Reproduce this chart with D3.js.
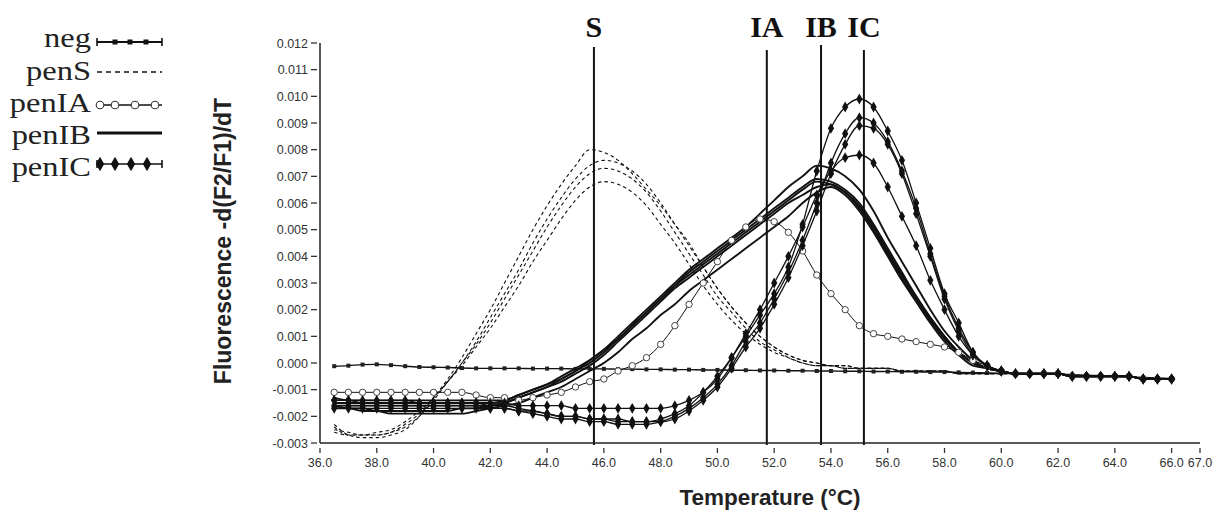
<!DOCTYPE html>
<html>
<head>
<meta charset="utf-8">
<script src="https://cdn.jsdelivr.net/npm/d3@7"></script>
<style>
  html, body { margin: 0; padding: 0; background: #fff; }
  svg { display: block; }
</style>
</head>
<body>
<svg id="chart" width="1220" height="512"></svg>
<script>
// ---------------- DATA ----------------
const temps = [
  36.5,37.0,37.5,38.0,38.5,39.0,39.5,40.0,40.5,41.0,
  41.5,42.0,42.5,43.0,43.5,44.0,44.5,45.0,45.5,46.0,
  46.5,47.0,47.5,48.0,48.5,49.0,49.5,50.0,50.5,51.0,
  51.5,52.0,52.5,53.0,53.5,54.0,54.5,55.0,55.5,56.0,
  56.5,57.0,57.5,58.0,58.5,59.0,59.5,60.0,60.5,61.0,
  61.5,62.0,62.5,63.0,63.5,64.0,64.5,65.0,65.5,66.0];

const negValues = [
  -0.00012,-0.00010,-0.00006,-0.00005,-0.00008,-0.00012,-0.00015,-0.00016,-0.00017,-0.00019,
  -0.00020,-0.00020,-0.00020,-0.00020,-0.00021,-0.00021,-0.00021,-0.00022,-0.00022,-0.00022,
  -0.00023,-0.00023,-0.00024,-0.00024,-0.00025,-0.00025,-0.00026,-0.00026,-0.00027,-0.00027,
  -0.00028,-0.00028,-0.00029,-0.00029,-0.00030,-0.00030,-0.00031,-0.00031,-0.00032,-0.00032,
  -0.00033,-0.00033,-0.00034,-0.00034,-0.00035,-0.00036,-0.00037,-0.00038,-0.00039,-0.00040,
  -0.00041,-0.00042,-0.00044,-0.00046,-0.00048,-0.00050,-0.00052,-0.00054,-0.00056,-0.00058];

const penS1 = [
  -0.0023,-0.0027,-0.0028,-0.0028,-0.0027,-0.0025,-0.0020,-0.0013,-0.0006,0.0002,
  0.0011,0.0020,0.0030,0.0040,0.0050,0.0059,0.0067,0.0074,0.0080,0.0079,
  0.0076,0.0071,0.0065,0.0059,0.0052,0.0045,0.0036,0.0028,0.0021,0.0015,
  0.0010,0.0006,0.0003,0.0001,0.0000,-0.0001,-0.0001,-0.0002,-0.0002,-0.0002,
  -0.0003,-0.0003,-0.0003,-0.0003,-0.0004,-0.0004,-0.0004,-0.0004,-0.0004,-0.0004,
  -0.0004,-0.0004,-0.0005,-0.0005,-0.0005,-0.0005,-0.0005,-0.0006,-0.0006,-0.0006];
const penS2 = [
  -0.0024,-0.0027,-0.0027,-0.0027,-0.0026,-0.0024,-0.0020,-0.0014,-0.0007,0.0000,
  0.0008,0.0017,0.0026,0.0035,0.0045,0.0054,0.0062,0.0069,0.0074,0.0076,
  0.0075,0.0072,0.0067,0.0060,0.0052,0.0044,0.0036,0.0028,0.0021,0.0015,
  0.0010,0.0006,0.0003,0.0001,0.0000,-0.0001,-0.0001,-0.0002,-0.0002,-0.0002,
  -0.0003,-0.0003,-0.0003,-0.0003,-0.0004,-0.0004,-0.0004,-0.0004,-0.0004,-0.0004,
  -0.0004,-0.0004,-0.0005,-0.0005,-0.0005,-0.0005,-0.0005,-0.0006,-0.0006,-0.0006];
const penS3 = [
  -0.0025,-0.0026,-0.0027,-0.0027,-0.0026,-0.0023,-0.0019,-0.0013,-0.0007,0.0000,
  0.0007,0.0015,0.0024,0.0033,0.0042,0.0051,0.0059,0.0066,0.0071,0.0073,
  0.0072,0.0069,0.0064,0.0057,0.0049,0.0041,0.0033,0.0025,0.0019,0.0013,
  0.0008,0.0005,0.0002,0.0000,-0.0001,-0.0001,-0.0002,-0.0002,-0.0002,-0.0002,
  -0.0003,-0.0003,-0.0003,-0.0003,-0.0004,-0.0004,-0.0004,-0.0004,-0.0004,-0.0004,
  -0.0004,-0.0004,-0.0005,-0.0005,-0.0005,-0.0005,-0.0005,-0.0006,-0.0006,-0.0006];
const penS4 = [
  -0.0026,-0.0027,-0.0027,-0.0026,-0.0025,-0.0022,-0.0018,-0.0013,-0.0007,-0.0001,
  0.0006,0.0013,0.0021,0.0029,0.0038,0.0046,0.0054,0.0061,0.0066,0.0068,
  0.0067,0.0064,0.0059,0.0052,0.0045,0.0037,0.0029,0.0022,0.0016,0.0011,
  0.0007,0.0004,0.0002,0.0000,-0.0001,-0.0001,-0.0002,-0.0002,-0.0002,-0.0002,
  -0.0003,-0.0003,-0.0003,-0.0003,-0.0004,-0.0004,-0.0004,-0.0004,-0.0004,-0.0004,
  -0.0004,-0.0004,-0.0005,-0.0005,-0.0005,-0.0005,-0.0005,-0.0006,-0.0006,-0.0006];

const penIA1 = [
  -0.0011,-0.0011,-0.0011,-0.0011,-0.0011,-0.0011,-0.0011,-0.0011,-0.0011,-0.0011,
  -0.0012,-0.0013,-0.0013,-0.0014,-0.0013,-0.0012,-0.0011,-0.0009,-0.0007,-0.0006,
  -0.0003,-0.0001,0.0002,0.0007,0.0014,0.0022,0.0030,0.0038,0.0046,0.0051,
  0.0054,0.0053,0.0049,0.0042,0.0033,0.0026,0.0020,0.0014,0.0011,0.0010,
  0.0009,0.0008,0.0007,0.0006,0.0004,0.0001,-0.0001,-0.0003,-0.0004,-0.0004,
  -0.0004,-0.0004,-0.0005,-0.0005,-0.0005,-0.0005,-0.0005,-0.0006,-0.0006,-0.0006];

const penIB1 = [
  -0.0015,-0.0015,-0.0015,-0.0015,-0.0015,-0.0015,-0.0015,-0.0015,-0.0015,-0.0015,
  -0.0015,-0.0015,-0.0014,-0.0012,-0.0010,-0.0008,-0.0005,-0.0002,0.0001,0.0005,
  0.0010,0.0015,0.0020,0.0025,0.0030,0.0035,0.0039,0.0043,0.0047,0.0051,
  0.0056,0.0061,0.0066,0.0070,0.0074,0.0073,0.0070,0.0065,0.0057,0.0047,
  0.0038,0.0029,0.0020,0.0012,0.0006,0.0001,-0.0002,-0.0003,-0.0004,-0.0004,
  -0.0004,-0.0004,-0.0005,-0.0005,-0.0005,-0.0005,-0.0005,-0.0006,-0.0006,-0.0006];
const penIB2 = [
  -0.0013,-0.0014,-0.0014,-0.0014,-0.0014,-0.0014,-0.0014,-0.0014,-0.0014,-0.0014,
  -0.0014,-0.0014,-0.0014,-0.0012,-0.0010,-0.0008,-0.0006,-0.0003,0.0000,0.0004,
  0.0009,0.0014,0.0019,0.0024,0.0029,0.0034,0.0038,0.0042,0.0046,0.0050,
  0.0054,0.0058,0.0062,0.0066,0.0069,0.0068,0.0065,0.0060,0.0052,0.0043,
  0.0034,0.0025,0.0017,0.0010,0.0004,0.0000,-0.0002,-0.0003,-0.0004,-0.0004,
  -0.0004,-0.0004,-0.0005,-0.0005,-0.0005,-0.0005,-0.0005,-0.0006,-0.0006,-0.0006];
const penIB3 = [
  -0.0016,-0.0016,-0.0016,-0.0016,-0.0016,-0.0016,-0.0016,-0.0016,-0.0016,-0.0016,
  -0.0016,-0.0016,-0.0015,-0.0013,-0.0011,-0.0009,-0.0007,-0.0004,-0.0001,0.0003,
  0.0008,0.0013,0.0018,0.0023,0.0028,0.0032,0.0036,0.0040,0.0044,0.0048,
  0.0052,0.0056,0.0060,0.0063,0.0066,0.0067,0.0064,0.0058,0.0050,0.0041,
  0.0032,0.0024,0.0016,0.0009,0.0004,0.0000,-0.0002,-0.0003,-0.0004,-0.0004,
  -0.0004,-0.0004,-0.0005,-0.0005,-0.0005,-0.0005,-0.0005,-0.0006,-0.0006,-0.0006];
const penIB4 = [
  -0.0017,-0.0017,-0.0018,-0.0018,-0.0019,-0.0019,-0.0019,-0.0019,-0.0019,-0.0019,
  -0.0018,-0.0017,-0.0016,-0.0015,-0.0013,-0.0011,-0.0009,-0.0006,-0.0003,0.0000,
  0.0004,0.0009,0.0013,0.0018,0.0022,0.0027,0.0031,0.0035,0.0039,0.0043,
  0.0047,0.0051,0.0055,0.0060,0.0064,0.0066,0.0063,0.0057,0.0049,0.0040,
  0.0031,0.0023,0.0015,0.0008,0.0003,-0.0001,-0.0002,-0.0003,-0.0004,-0.0004,
  -0.0004,-0.0004,-0.0005,-0.0005,-0.0005,-0.0005,-0.0005,-0.0006,-0.0006,-0.0006];
const penIB5 = [
  -0.0016,-0.0017,-0.0017,-0.0018,-0.0018,-0.0018,-0.0018,-0.0018,-0.0018,-0.0017,
  -0.0017,-0.0016,-0.0015,-0.0013,-0.0011,-0.0009,-0.0006,-0.0003,0.0001,0.0005,
  0.0009,0.0014,0.0019,0.0024,0.0029,0.0033,0.0037,0.0041,0.0045,0.0049,
  0.0053,0.0057,0.0061,0.0065,0.0068,0.0067,0.0064,0.0059,0.0051,0.0042,
  0.0033,0.0025,0.0017,0.0010,0.0004,0.0000,-0.0002,-0.0003,-0.0004,-0.0004,
  -0.0004,-0.0004,-0.0005,-0.0005,-0.0005,-0.0005,-0.0005,-0.0006,-0.0006,-0.0006];

const penIC1 = [
  -0.0014,-0.0014,-0.0015,-0.0015,-0.0015,-0.0015,-0.0015,-0.0015,-0.0015,-0.0015,
  -0.0015,-0.0016,-0.0016,-0.0017,-0.0018,-0.0019,-0.0020,-0.0020,-0.0021,-0.0021,
  -0.0022,-0.0022,-0.0022,-0.0021,-0.0019,-0.0016,-0.0011,-0.0005,0.0002,0.0010,
  0.0018,0.0026,0.0036,0.0052,0.0072,0.0088,0.0096,0.0099,0.0096,0.0087,
  0.0076,0.0060,0.0043,0.0026,0.0015,0.0004,-0.0001,-0.0003,-0.0004,-0.0004,
  -0.0004,-0.0004,-0.0005,-0.0005,-0.0005,-0.0005,-0.0005,-0.0006,-0.0006,-0.0006];
const penIC2 = [
  -0.0016,-0.0016,-0.0016,-0.0016,-0.0016,-0.0016,-0.0016,-0.0016,-0.0016,-0.0016,
  -0.0016,-0.0017,-0.0017,-0.0018,-0.0019,-0.0020,-0.0021,-0.0021,-0.0022,-0.0022,
  -0.0023,-0.0023,-0.0023,-0.0022,-0.0020,-0.0017,-0.0013,-0.0008,-0.0001,0.0008,
  0.0015,0.0024,0.0034,0.0046,0.0060,0.0075,0.0086,0.0092,0.0090,0.0083,
  0.0072,0.0058,0.0041,0.0025,0.0013,0.0004,-0.0001,-0.0003,-0.0004,-0.0004,
  -0.0004,-0.0004,-0.0005,-0.0005,-0.0005,-0.0005,-0.0005,-0.0006,-0.0006,-0.0006];
const penIC3 = [
  -0.0017,-0.0017,-0.0017,-0.0017,-0.0017,-0.0017,-0.0017,-0.0017,-0.0017,-0.0017,
  -0.0017,-0.0017,-0.0017,-0.0018,-0.0018,-0.0019,-0.0020,-0.0020,-0.0021,-0.0021,
  -0.0021,-0.0022,-0.0022,-0.0022,-0.0021,-0.0018,-0.0014,-0.0009,-0.0002,0.0006,
  0.0013,0.0022,0.0032,0.0044,0.0057,0.0071,0.0082,0.0089,0.0088,0.0082,
  0.0071,0.0056,0.0040,0.0024,0.0012,0.0003,-0.0001,-0.0003,-0.0004,-0.0004,
  -0.0004,-0.0004,-0.0005,-0.0005,-0.0005,-0.0005,-0.0005,-0.0006,-0.0006,-0.0006];
const penIC4 = [
  -0.0014,-0.0014,-0.0014,-0.0014,-0.0014,-0.0014,-0.0015,-0.0015,-0.0015,-0.0015,
  -0.0015,-0.0015,-0.0015,-0.0016,-0.0016,-0.0016,-0.0016,-0.0017,-0.0017,-0.0017,
  -0.0017,-0.0017,-0.0017,-0.0017,-0.0016,-0.0014,-0.0011,-0.0006,0.0002,0.0011,
  0.0020,0.0030,0.0040,0.0051,0.0063,0.0072,0.0077,0.0078,0.0075,0.0066,
  0.0055,0.0044,0.0031,0.0020,0.0010,0.0003,-0.0001,-0.0003,-0.0004,-0.0004,
  -0.0004,-0.0004,-0.0005,-0.0005,-0.0005,-0.0005,-0.0005,-0.0006,-0.0006,-0.0006];

const xTicks = [36,38,40,42,44,46,48,50,52,54,56,58,60,62,64,66,67];
const yTicks = [-0.003,-0.002,-0.001,0.000,0.001,0.002,0.003,0.004,0.005,0.006,0.007,0.008,0.009,0.010,0.011,0.012];
const refTemps = [45.65, 51.74, 53.65, 55.16];
const refLabels = ["S", "IA", "IB", "IC"];
const legendNames = ["neg", "penS", "penIA", "penIB", "penIC"];

// ---------------- CHART ----------------
const svg = d3.select("#chart");
svg.append("rect").attr("width", 1220).attr("height", 512).attr("fill", "#fff");

const x = d3.scaleLinear().domain([36, 67]).range([320, 1200]);
const y = d3.scaleLinear().domain([-0.003, 0.012]).range([443, 43]);

const groups = [
  { name: "neg",   curves: [negValues],                          style: "neg" },
  { name: "penS",  curves: [penS1, penS2, penS3, penS4],         style: "dash" },
  { name: "penIB", curves: [penIB1, penIB2, penIB3, penIB4, penIB5], style: "thick" },
  { name: "penIA", curves: [penIA1],                             style: "circle" },
  { name: "penIC", curves: [penIC1, penIC2, penIC3, penIC4],     style: "diamond" }
];

const styles = {
  neg:     { width: 1.4, dash: null },
  dash:    { width: 1.1, dash: "3.5,3" },
  thick:   { width: 1.9, dash: null },
  circle:  { width: 1.0, dash: null },
  diamond: { width: 1.3, dash: null }
};

const line = d3.line()
  .x((d, i) => x(temps[i]))
  .y(d => y(d))
  .curve(d3.curveMonotoneX);

const plot = svg.append("g");
const diamond = d3.symbol().type(d3.symbolDiamond).size(34);

groups.forEach(g => {
  const st = styles[g.style];
  g.curves.forEach(vals => {
    plot.append("path")
      .attr("d", line(vals))
      .attr("fill", "none")
      .attr("stroke", "#111")
      .attr("stroke-width", st.width)
      .attr("stroke-dasharray", st.dash);
    const pts = vals.map((v, i) => [x(temps[i]), y(v)]);
    if (g.style === "neg") {
      plot.selectAll(null).data(pts).enter().append("rect")
        .attr("x", d => d[0] - 2).attr("y", d => d[1] - 2)
        .attr("width", 4).attr("height", 4).attr("fill", "#222");
    } else if (g.style === "circle") {
      plot.selectAll(null).data(pts).enter().append("circle")
        .attr("cx", d => d[0]).attr("cy", d => d[1]).attr("r", 3.2)
        .attr("fill", "#fff").attr("stroke", "#444").attr("stroke-width", 1);
    } else if (g.style === "diamond") {
      plot.selectAll(null).data(pts).enter().append("path")
        .attr("d", diamond)
        .attr("transform", d => `translate(${d[0]},${d[1]})`)
        .attr("fill", "#111");
    }
  });
});

// reference vertical lines + labels
const refTop = [47, 50, 45, 50];
refTemps.forEach((t, i) => {
  svg.append("line")
    .attr("x1", x(t)).attr("x2", x(t))
    .attr("y1", refTop[i]).attr("y2", 445)
    .attr("stroke", "#111").attr("stroke-width", 2);
  svg.append("text")
    .attr("x", x(t)).attr("y", 37)
    .attr("text-anchor", "middle")
    .attr("font-family", "'Liberation Serif', 'Times New Roman', serif")
    .attr("font-weight", "bold")
    .attr("font-size", 30)
    .attr("fill", "#111")
    .text(refLabels[i]);
});

// axes
const axisFont = "'Liberation Sans', Arial, sans-serif";
svg.append("line").attr("x1", 320).attr("x2", 320).attr("y1", 43).attr("y2", 443)
  .attr("stroke", "#222").attr("stroke-width", 1.5);
svg.append("line").attr("x1", 320).attr("x2", 1200).attr("y1", 443).attr("y2", 443)
  .attr("stroke", "#222").attr("stroke-width", 1.5);

const yt = svg.append("g");
yTicks.forEach(v => {
  yt.append("line").attr("x1", 311).attr("x2", 317).attr("y1", y(v)).attr("y2", y(v))
    .attr("stroke", "#333").attr("stroke-width", 1.3);
  yt.append("text").attr("x", 308).attr("y", y(v)).attr("dy", "0.36em")
    .attr("text-anchor", "end").attr("font-family", axisFont).attr("font-size", 12.5)
    .attr("fill", "#333").text(v.toFixed(3));
});

const xt = svg.append("g");
xTicks.forEach(v => {
  xt.append("line").attr("x1", x(v)).attr("x2", x(v)).attr("y1", 448).attr("y2", 453)
    .attr("stroke", "#333").attr("stroke-width", 1.3);
  xt.append("text").attr("x", x(v)).attr("y", 467)
    .attr("text-anchor", "middle").attr("font-family", axisFont).attr("font-size", 12.5)
    .attr("fill", "#333").text(v.toFixed(1));
});

// axis titles
svg.append("text")
  .attr("transform", "translate(223,241) rotate(-90)")
  .attr("text-anchor", "middle").attr("dominant-baseline", "central")
  .attr("font-family", axisFont).attr("font-weight", "bold").attr("font-size", 23)
  .attr("fill", "#222")
  .text("Fluorescence -d(F2/F1)/dT");

svg.append("text")
  .attr("x", 770).attr("y", 505).attr("text-anchor", "middle")
  .attr("font-family", axisFont).attr("font-weight", "bold").attr("font-size", 22.5)
  .attr("fill", "#222")
  .text("Temperature (\u00B0C)");

// legend
const legY = [47, 80, 112, 144, 176];
const legLineY = [42, 72, 105, 133, 164];
const lx0 = 97, lx1 = 162;
const leg = svg.append("g");
legendNames.forEach((n, i) => {
  leg.append("text")
    .attr("transform", `translate(91,${legY[i]}) scale(1.16,1)`)
    .attr("text-anchor", "end")
    .attr("font-family", "'Liberation Serif', 'Times New Roman', serif")
    .attr("font-size", 28).attr("fill", "#222").text(n);
  const ly = legLineY[i];
  const g = groups.find(gr => gr.name === n);
  const st = styles[g.style];
  leg.append("line").attr("x1", lx0).attr("x2", lx1).attr("y1", ly).attr("y2", ly)
    .attr("stroke", "#111").attr("stroke-width", g.style === "thick" ? 3 : st.width + 0.4)
    .attr("stroke-dasharray", g.style === "dash" ? "5,4" : null);
  const mx = [115, 130, 146];
  if (g.style === "neg" || g.style === "diamond") {
    [lx0, lx1].forEach(cx => leg.append("line").attr("x1", cx).attr("x2", cx)
      .attr("y1", ly - 4).attr("y2", ly + 4).attr("stroke", "#111").attr("stroke-width", 1.6));
  }
  if (g.style === "neg") {
    mx.forEach(cx => leg.append("rect").attr("x", cx - 2.5).attr("y", ly - 2.5)
      .attr("width", 5).attr("height", 5).attr("fill", "#111"));
  } else if (g.style === "circle") {
    [100, 115, 135, 155].forEach(cx => leg.append("circle").attr("cx", cx).attr("cy", ly)
      .attr("r", 3.8).attr("fill", "#fff").attr("stroke", "#333").attr("stroke-width", 1.1));
  } else if (g.style === "diamond") {
    [100, 115, 131, 147].forEach(cx => leg.append("path")
      .attr("d", d3.symbol().type(d3.symbolDiamond).size(60))
      .attr("transform", `translate(${cx},${ly})`).attr("fill", "#111"));
  }
});
</script>
</body>
</html>
